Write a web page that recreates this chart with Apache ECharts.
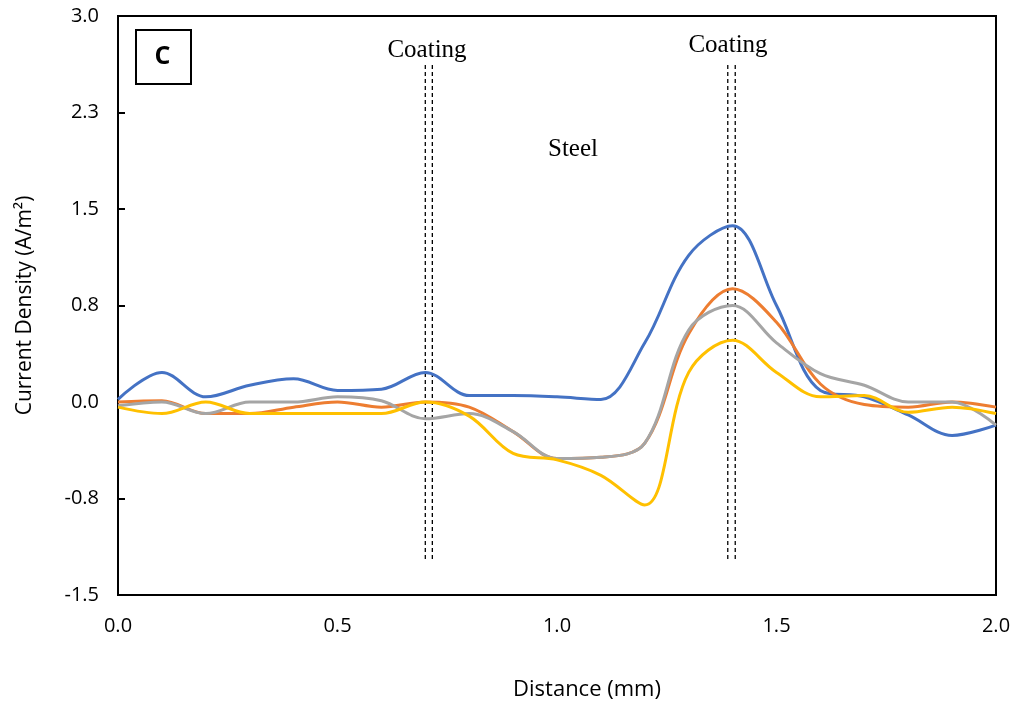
<!DOCTYPE html>
<html>
<head>
<meta charset="utf-8">
<script src="https://cdn.jsdelivr.net/npm/echarts@6/dist/echarts.min.js"></script>
<style>
  html, body { margin: 0; padding: 0; background: #fff; }
  #chart { width: 1016px; height: 711px; }
</style>
</head>
<body>
<div id="chart"></div>
<script>
// distance along the scan, mm
const distance = [0, 0.1, 0.2, 0.3, 0.4, 0.5, 0.6, 0.7, 0.8, 0.9, 1.0, 1.1, 1.2, 1.3, 1.4, 1.5, 1.6, 1.7, 1.8, 1.9, 2.0];

// current density, A/m2
const blue   = [0.02, 0.23, 0.04, 0.13, 0.18, 0.09, 0.10, 0.23, 0.05, 0.05, 0.04, 0.02, 0.46, 1.14, 1.37, 0.75, 0.09, 0.04, -0.10, -0.26, -0.18];
const orange = [0.00, 0.01, -0.09, -0.09, -0.04, 0.00, -0.04, 0.00, -0.04, -0.23, -0.44, -0.43, -0.32, 0.53, 0.88, 0.62, 0.14, -0.02, -0.04, 0.00, -0.04];
const gray   = [-0.03, 0.00, -0.09, 0.00, 0.00, 0.04, 0.01, -0.13, -0.09, -0.23, -0.44, -0.43, -0.32, 0.56, 0.75, 0.46, 0.22, 0.13, 0.00, 0.00, -0.18];
const yellow = [-0.04, -0.09, 0.00, -0.09, -0.09, -0.09, -0.09, 0.00, -0.11, -0.40, -0.45, -0.57, -0.80, 0.23, 0.48, 0.23, 0.04, 0.05, -0.08, -0.04, -0.09];

// coating boundaries (dashed lines)
const coatingX = [0.700, 0.716, 1.389, 1.406];
const coatingSpan = [2.62, -1.24];

const yTicks = { min: -1.5, max: 3.0, interval: 0.75 };

const SANS = '"Open Sans", sans-serif';
const SERIF = '"Liberation Serif", serif';

function pairs(ys) {
  return distance.map((x, i) => [x, ys[i]]);
}

function curve(name, ys, color) {
  return {
    name: name,
    type: 'line',
    data: pairs(ys),
    smooth: 0.35,
    symbol: 'none',
    lineStyle: { color: color, width: 3 },
    z: 3
  };
}

const dashSeries = coatingX.map(x => ({
  type: 'line',
  data: coatingSpan.map(y => [x, y]),
  symbol: 'none',
  silent: true,
  lineStyle: { color: '#000', width: 1.3, type: [4, 3] },
  z: 2
}));

const chart = echarts.init(document.getElementById('chart'), null, { renderer: 'canvas' });

chart.setOption({
  animation: false,
  backgroundColor: '#fff',
  grid: { left: 118, right: 20, top: 16, bottom: 116, show: true, borderColor: '#000', borderWidth: 2, backgroundColor: 'transparent' },
  xAxis: {
    type: 'value',
    min: 0,
    max: 2,
    interval: 0.5,
    name: 'Distance (mm)',
    nameLocation: 'middle',
    nameGap: 84,
    // the title sits a little right of the plot centre in the original
    nameTextStyle: { fontFamily: SANS, fontSize: 22, color: '#000', padding: [0, 0, 0, 60] },
    axisLine: { show: true, onZero: false, lineStyle: { color: '#000', width: 2 } },
    axisTick: { show: false },
    splitLine: { show: false },
    axisLabel: {
      margin: 21,
      color: '#000',
      fontFamily: SANS,
      fontSize: 20,
      formatter: v => v.toFixed(1)
    }
  },
  yAxis: {
    type: 'value',
    min: yTicks.min,
    max: yTicks.max,
    interval: yTicks.interval,
    name: 'Current Density (A/m\u00b2)',
    nameLocation: 'middle',
    nameGap: 82,
    nameTextStyle: { fontFamily: SANS, fontSize: 21, color: '#000' },
    axisLine: { show: true, onZero: false, lineStyle: { color: '#000', width: 2 } },
    axisTick: { show: true, inside: true, length: 7, lineStyle: { color: '#000', width: 2 } },
    splitLine: { show: false },
    axisLabel: {
      margin: 19,
      color: '#000',
      fontFamily: SANS,
      fontSize: 20,
      formatter: v => v.toFixed(1)
    }
  },
  graphic: [
    { type: 'rect', left: 135, top: 29, shape: { width: 55, height: 54 }, style: { fill: '#fff', stroke: '#000', lineWidth: 2 }, z: 10 },
    { type: 'text', x: 162.5, y: 57, style: { text: 'C', font: 'bold 25px ' + SANS, fill: '#000', textAlign: 'center', textVerticalAlign: 'middle' }, z: 11 },
    { type: 'text', x: 427, y: 50, style: { text: 'Coating', font: '25px ' + SERIF, fill: '#000', textAlign: 'center', textVerticalAlign: 'middle' }, z: 10 },
    { type: 'text', x: 728, y: 45, style: { text: 'Coating', font: '25px ' + SERIF, fill: '#000', textAlign: 'center', textVerticalAlign: 'middle' }, z: 10 },
    { type: 'text', x: 573, y: 149, style: { text: 'Steel', font: '25px ' + SERIF, fill: '#000', textAlign: 'center', textVerticalAlign: 'middle' }, z: 10 }
  ],
  series: [
    ...dashSeries,
    curve('S1', blue, '#4472C4'),
    curve('S2', orange, '#ED7D31'),
    curve('S3', gray, '#A5A5A5'),
    curve('S4', yellow, '#FFC000')
  ]
});
</script>
</body>
</html>
